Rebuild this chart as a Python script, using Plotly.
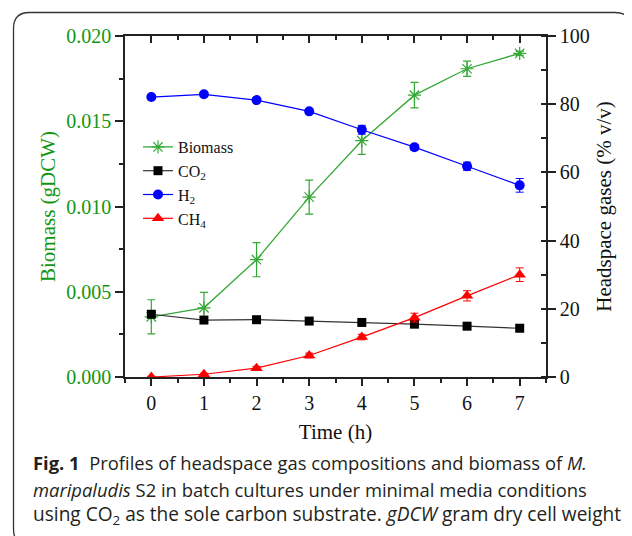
import plotly.graph_objects as go

time_h = [0, 1, 2, 3, 4, 5, 6, 7]
biomass = [0.00353, 0.00406, 0.00688, 0.01055, 0.01386, 0.01653, 0.01808, 0.01898]
biomass_err = [0.0010, 0.0009, 0.0010, 0.0010, 0.0008, 0.00075, 0.00045, 0.00012]
co2 = [18.4, 16.7, 16.8, 16.4, 16.0, 15.5, 14.9, 14.3]
co2_err = [0.3, 0.3, 0.3, 0.3, 0.3, 0.3, 0.3, 0.3]
h2 = [82.1, 82.9, 81.2, 77.9, 72.5, 67.4, 61.8, 56.2]
h2_err = [0.5, 0.5, 0.5, 0.6, 1.3, 0.8, 1.2, 2.0]
ch4 = [0.0, 0.8, 2.6, 6.3, 11.7, 17.4, 23.8, 30.0]
ch4_err = [0.2, 0.3, 0.5, 0.7, 0.8, 1.3, 1.5, 2.0]

GREEN_LINE = "#36a836"
GREEN_TXT = "#129612"
SERIF = "Liberation Serif"

# page body has an 8px default margin: lay out in reference-pixel coords, offset by 8
OFF = 8
W, H = 624, 528
PL, PR, PT, PB = 125, 546, 36, 377          # plot box in reference pixels
L, R, T, B = PL - OFF, W - (PR - OFF), PT - OFF, H - (PB - OFF)
PW, PH = W - L - R, H - T - B

def px(x):
    return (x - OFF - L) / PW

def py(y):
    return (H - B - (y - OFF)) / PH

fig = go.Figure()

fig.add_trace(go.Scatter(
    x=time_h, y=biomass, name="Biomass", mode="lines+markers",
    line=dict(color=GREEN_LINE, width=1.3),
    marker=dict(symbol="asterisk-open", size=11, color=GREEN_LINE, line=dict(color=GREEN_LINE, width=1.2)),
    error_y=dict(type="data", array=biomass_err, color=GREEN_LINE, thickness=1.2, width=4),
    xaxis="x", yaxis="y"))
fig.add_trace(go.Scatter(
    x=time_h, y=co2, name="CO<sub>2</sub>", mode="lines+markers",
    line=dict(color="#333333", width=1.2),
    marker=dict(symbol="square", size=9, color="black"),
    error_y=dict(type="data", array=co2_err, color="#333333", thickness=1, width=3),
    xaxis="x", yaxis="y2"))
fig.add_trace(go.Scatter(
    x=time_h, y=h2, name="H<sub>2</sub>", mode="lines+markers",
    line=dict(color="#0000ff", width=1.2),
    marker=dict(symbol="circle", size=10, color="#0000ff"),
    error_y=dict(type="data", array=h2_err, color="#0000ff", thickness=1, width=4),
    xaxis="x", yaxis="y2"))
fig.add_trace(go.Scatter(
    x=time_h, y=ch4, name="CH<sub>4</sub>", mode="lines+markers",
    line=dict(color="#ff0000", width=1.2),
    marker=dict(symbol="triangle-up", size=11, color="#ff0000"),
    error_y=dict(type="data", array=ch4_err, color="#ff0000", thickness=1, width=4),
    xaxis="x", yaxis="y2"))
# dummy trace to activate the top mirror axis
fig.add_trace(go.Scatter(x=[None], y=[None], xaxis="x2", yaxis="y", showlegend=False, hoverinfo="skip"))

axis_common = dict(showline=True, linecolor="#222222", linewidth=1.5, showgrid=False, zeroline=False,
                   tickcolor="#222222", tickwidth=1.5)

fig.update_layout(
    width=W, height=H,
    margin=dict(l=L, r=R, t=T, b=B, pad=0),
    paper_bgcolor="white", plot_bgcolor="white",
    font=dict(family=SERIF, size=20, color="#111111"),
    xaxis=dict(range=[-0.5, 7.5], dtick=1, tick0=0, ticks="outside", ticklen=7,
               minor=dict(dtick=0.5, tick0=0, ticks="outside", ticklen=4, tickcolor="#222222", tickwidth=1.5),
               title=dict(text="Time (h)", font=dict(size=21, family=SERIF), standoff=12),
               tickfont=dict(size=20, family=SERIF), **axis_common),
    xaxis2=dict(range=[-0.5, 7.5], overlaying="x", side="top", dtick=1, tick0=0, ticks="inside", ticklen=7,
                minor=dict(dtick=0.5, tick0=0, ticks="inside", ticklen=4, tickcolor="#222222", tickwidth=1.5),
                showticklabels=False, **axis_common),
    yaxis=dict(range=[0, 0.020], dtick=0.005, tickformat=".3f", ticks="outside", ticklen=8,
               minor=dict(dtick=0.0025, ticks="outside", ticklen=4, tickcolor="#222222", tickwidth=1.5),
               tickfont=dict(size=20, family=SERIF, color=GREEN_TXT),
               title=dict(text="Biomass (gDCW)", font=dict(size=21, family=SERIF, color=GREEN_TXT), standoff=5),
               **axis_common),
    yaxis2=dict(range=[0, 100], dtick=20, overlaying="y", side="right", ticks="outside", ticklen=8,
                minor=dict(dtick=10, ticks="inside", ticklen=5, tickcolor="#222222", tickwidth=1.5),
                tickfont=dict(size=20, family=SERIF, color="#111111"),
                title=dict(text="Headspace gases (% v/v)", font=dict(size=21, family=SERIF), standoff=8),
                **axis_common),
    legend=dict(x=px(138), y=py(130), xanchor="left", yanchor="top", bgcolor="rgba(0,0,0,0)",
                font=dict(size=16, family=SERIF, color="#111111"), tracegroupgap=0, itemwidth=30),
    showlegend=True,
)

# rounded frame around figure + caption
x0, x1, y0, y1, r = 13.5, 631, 12.5, 545, 16
path = (f"M {px(x0 + r)},{py(y0)} L {px(x1 - r)},{py(y0)} Q {px(x1)},{py(y0)} {px(x1)},{py(y0 + r)} "
        f"L {px(x1)},{py(y1 - r)} Q {px(x1)},{py(y1)} {px(x1 - r)},{py(y1)} "
        f"L {px(x0 + r)},{py(y1)} Q {px(x0)},{py(y1)} {px(x0)},{py(y1 - r)} "
        f"L {px(x0)},{py(y0 + r)} Q {px(x0)},{py(y0)} {px(x0 + r)},{py(y0)} Z")
fig.add_shape(type="path", path=path, xref="paper", yref="paper",
              line=dict(color="#333333", width=1.3), fillcolor="rgba(0,0,0,0)", layer="below")

caption_lines = [
    "<b>Fig. 1</b>  Profiles of headspace gas compositions and biomass of <i>M.</i>",
    "<i>maripaludis</i> S2 in batch cultures under minimal media conditions",
    "using CO<sub>2</sub> as the sole carbon substrate. <i>gDCW</i> gram dry cell weight",
]
caption_y = [462, 489, 515]
caption_size = [18.4, 18.4, 19.1]
for txt, yy, fs in zip(caption_lines, caption_y, caption_size):
    fig.add_annotation(text=txt, xref="paper", yref="paper", x=px(31), y=py(yy),
                       xanchor="left", yanchor="middle", showarrow=False,
                       font=dict(family="Open Sans", size=fs, color="#231f20"), align="left")

fig.write_html("out.html")
